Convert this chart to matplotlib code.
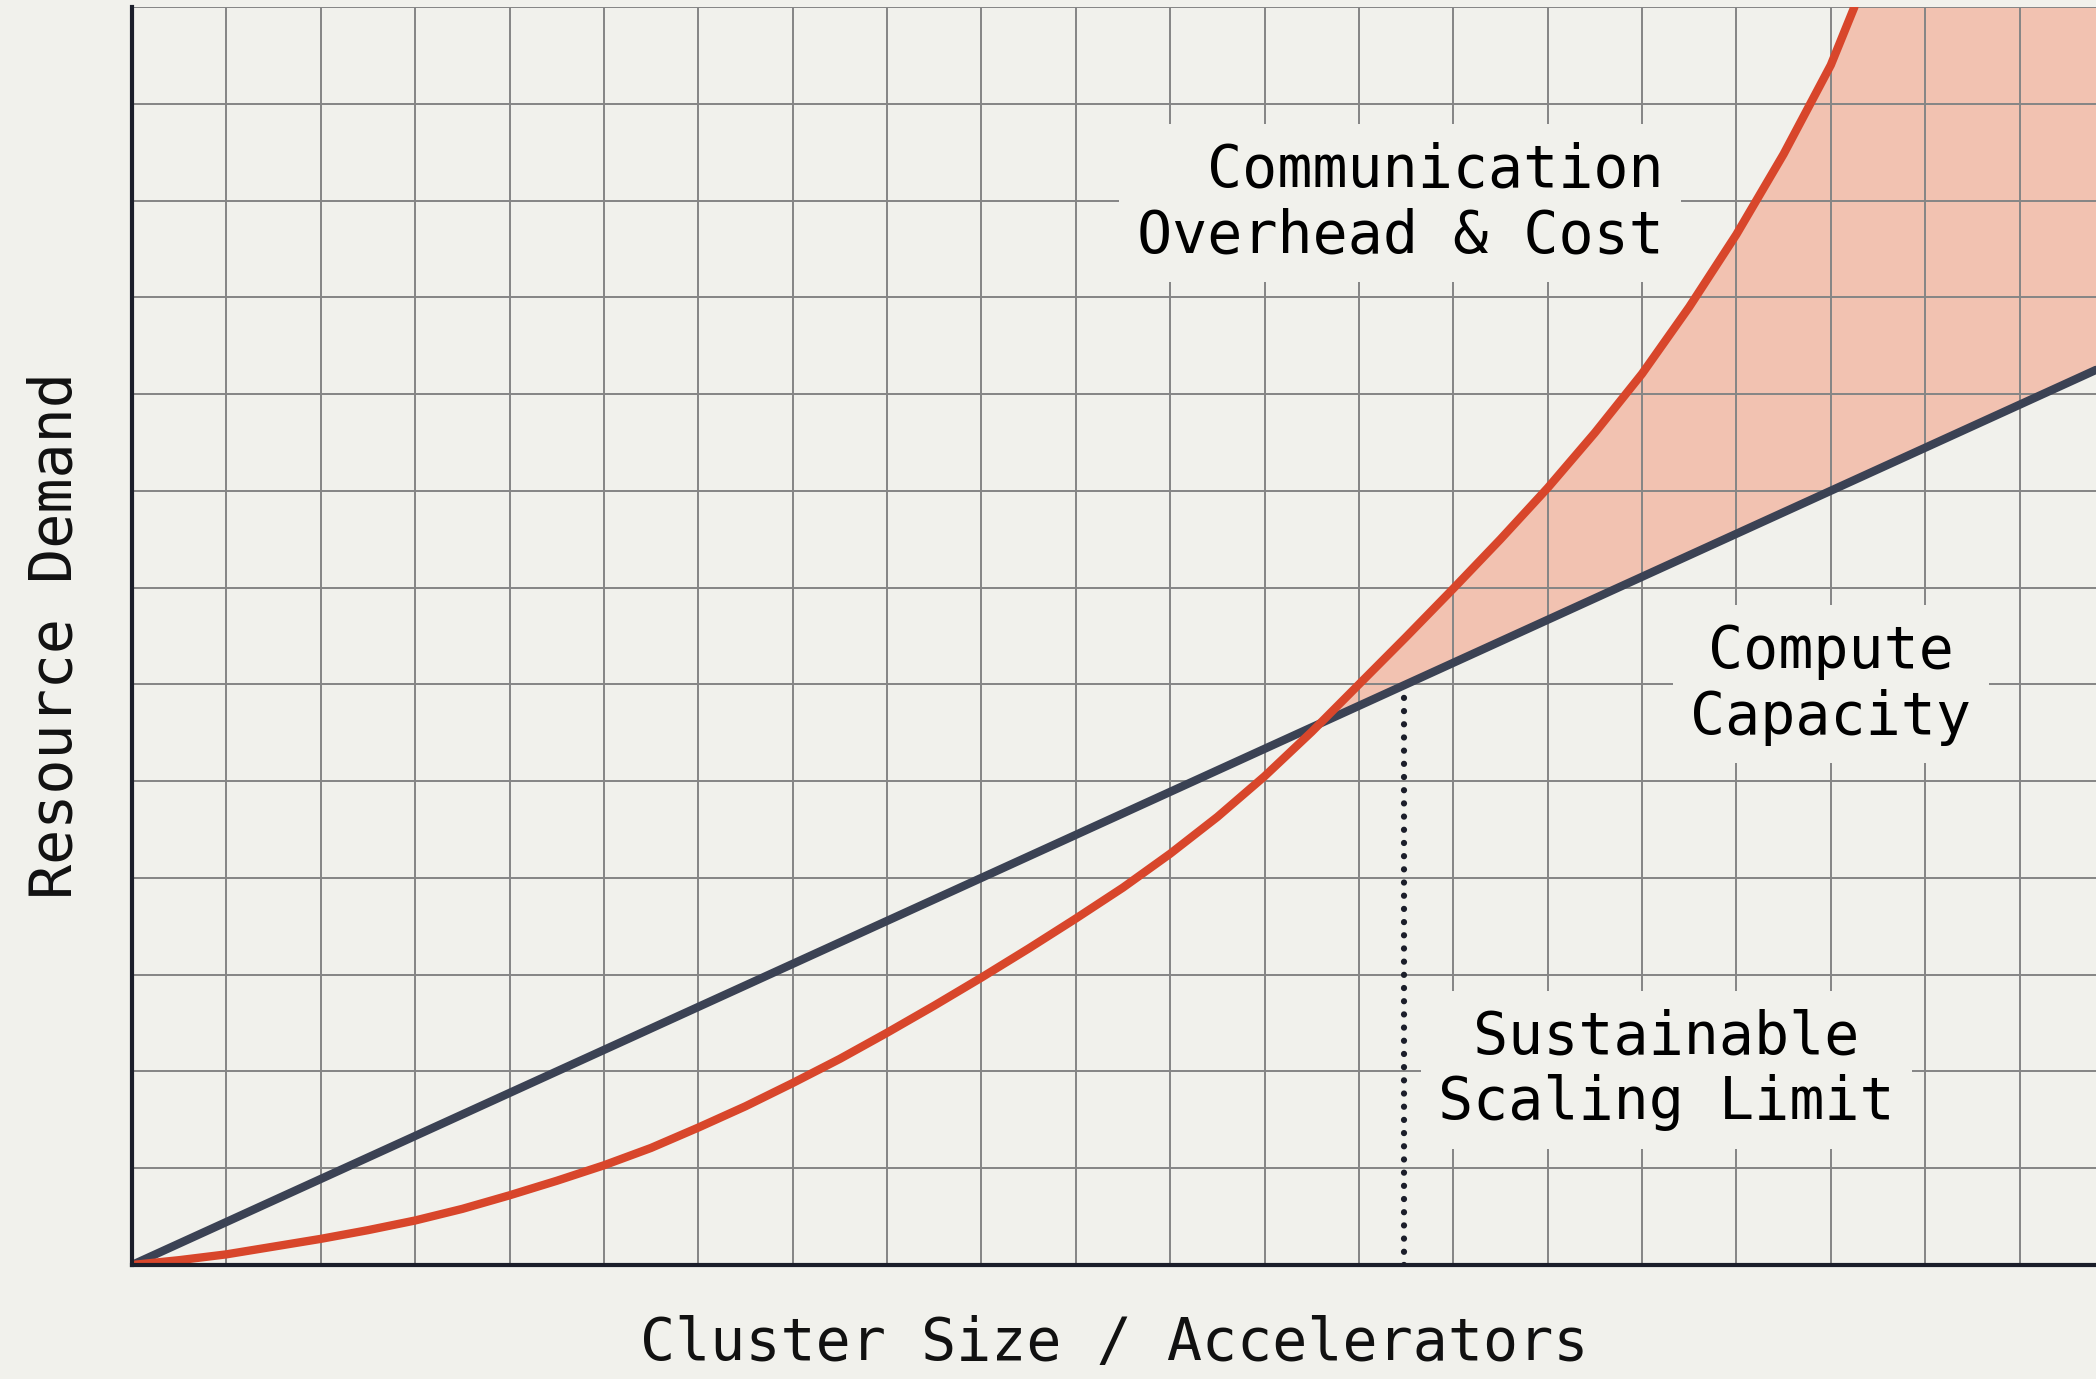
import numpy as np
import matplotlib.pyplot as plt

# (x and y in grid squares)
cluster_x   = [0, 0.5, 1, 1.5, 2, 2.5, 3, 3.5, 4, 4.5, 5, 5.5, 6, 6.5, 7, 7.5, 8, 8.5, 9, 9.5,
               10, 10.5, 11, 11.5, 12, 12.5, 13, 13.5, 14, 14.5, 15, 15.5, 16, 16.5, 17, 17.5,
               18, 18.25]
overhead_y  = [0, 0.05, 0.11, 0.19, 0.27, 0.36, 0.46, 0.58, 0.72, 0.87, 1.03, 1.21, 1.42,
               1.64, 1.88, 2.13, 2.40, 2.68, 2.97, 3.27, 3.58, 3.90, 4.25, 4.63, 5.05, 5.51,
               6.00, 6.49, 6.99, 7.50, 8.03, 8.60, 9.21, 9.90, 10.65, 11.48, 12.40, 13.0]
compute_x   = [0, 20.81]
compute_y   = [0, 9.25]
cross_x     = 12.54
limit_x     = 13.48

labels = {
    'overhead': 'Communication\nOverhead & Cost',
    'compute':  'Compute\nCapacity',
    'limit':    'Sustainable\nScaling Limit',
}

BG    = '#F1F1EC'
NAVY  = '#3B4254'
RED   = '#D8462B'
FILL  = '#F2C2B1'
INK   = '#1B1E2A'

plt.rcParams['font.family'] = ['DejaVu Sans Mono']

def compute_at(x):
    return np.interp(x, compute_x, compute_y)

def main():
    fig = plt.figure(figsize=(20.96, 13.79), dpi=100, facecolor=BG)
    ax = fig.add_axes([132/2096, 1 - 1265/1379, 1 - 132/2096, (1265 - 7)/1379])
    ax.set_facecolor(BG)

    ax.set_xlim(0, compute_x[-1])
    ax.set_ylim(0, 13)
    ax.set_xticks(np.arange(0, 21))
    ax.set_yticks(np.arange(0, 14))
    ax.tick_params(length=0, labelbottom=False, labelleft=False)
    ax.set_axisbelow('line')
    ax.grid(True, color='#858585', lw=1.4)

    for side in ('top', 'right'):
        ax.spines[side].set_visible(False)
    for side in ('left', 'bottom'):
        ax.spines[side].set_color(INK)
        ax.spines[side].set_linewidth(3)
        ax.spines[side].set_zorder(5)

    # shaded gap where overhead exceeds capacity
    cx = np.array(cluster_x)
    cy = np.array(overhead_y)
    keep = cx > cross_x
    top = ax.get_ylim()[1]
    poly_x = [cross_x] + list(cx[keep]) + [compute_x[-1], compute_x[-1]]
    poly_y = [compute_at(cross_x)] + list(cy[keep]) + [top, compute_y[-1]]
    ax.fill(poly_x, poly_y, color=FILL, lw=0, zorder=1)

    ax.plot(compute_x, compute_y, color=NAVY, lw=6, solid_capstyle='round', zorder=3)
    ax.plot(cluster_x, overhead_y, color=RED, lw=6, solid_capstyle='round',
            solid_joinstyle='round', zorder=4)

    ax.plot([limit_x, limit_x], [0, compute_at(limit_x) - 0.1], color=INK, lw=4.5,
            linestyle=(0, (0.01, 2.1)), dash_capstyle='round', zorder=3)

    box = dict(boxstyle='square,pad=0.3', facecolor=BG, edgecolor='none')
    ax.text(16.23, 10.97, labels['overhead'], fontsize=42, ha='right', va='center',
            multialignment='right', bbox=box, zorder=6)
    ax.text(18.0, 6.0, labels['compute'], fontsize=42, ha='center', va='center',
            multialignment='center', bbox=box, zorder=6)
    ax.text(16.26, 2.02, labels['limit'], fontsize=42, ha='center', va='center',
            multialignment='center', bbox=box, zorder=6)

    ax.set_xlabel('Cluster Size / Accelerators', fontsize=42, labelpad=36, color='#111111')
    ax.set_ylabel('Resource Demand', fontsize=42, labelpad=35, color='#111111')

    fig.savefig('out.png', dpi=100, facecolor=BG)


if __name__ == "__main__":
    main()
